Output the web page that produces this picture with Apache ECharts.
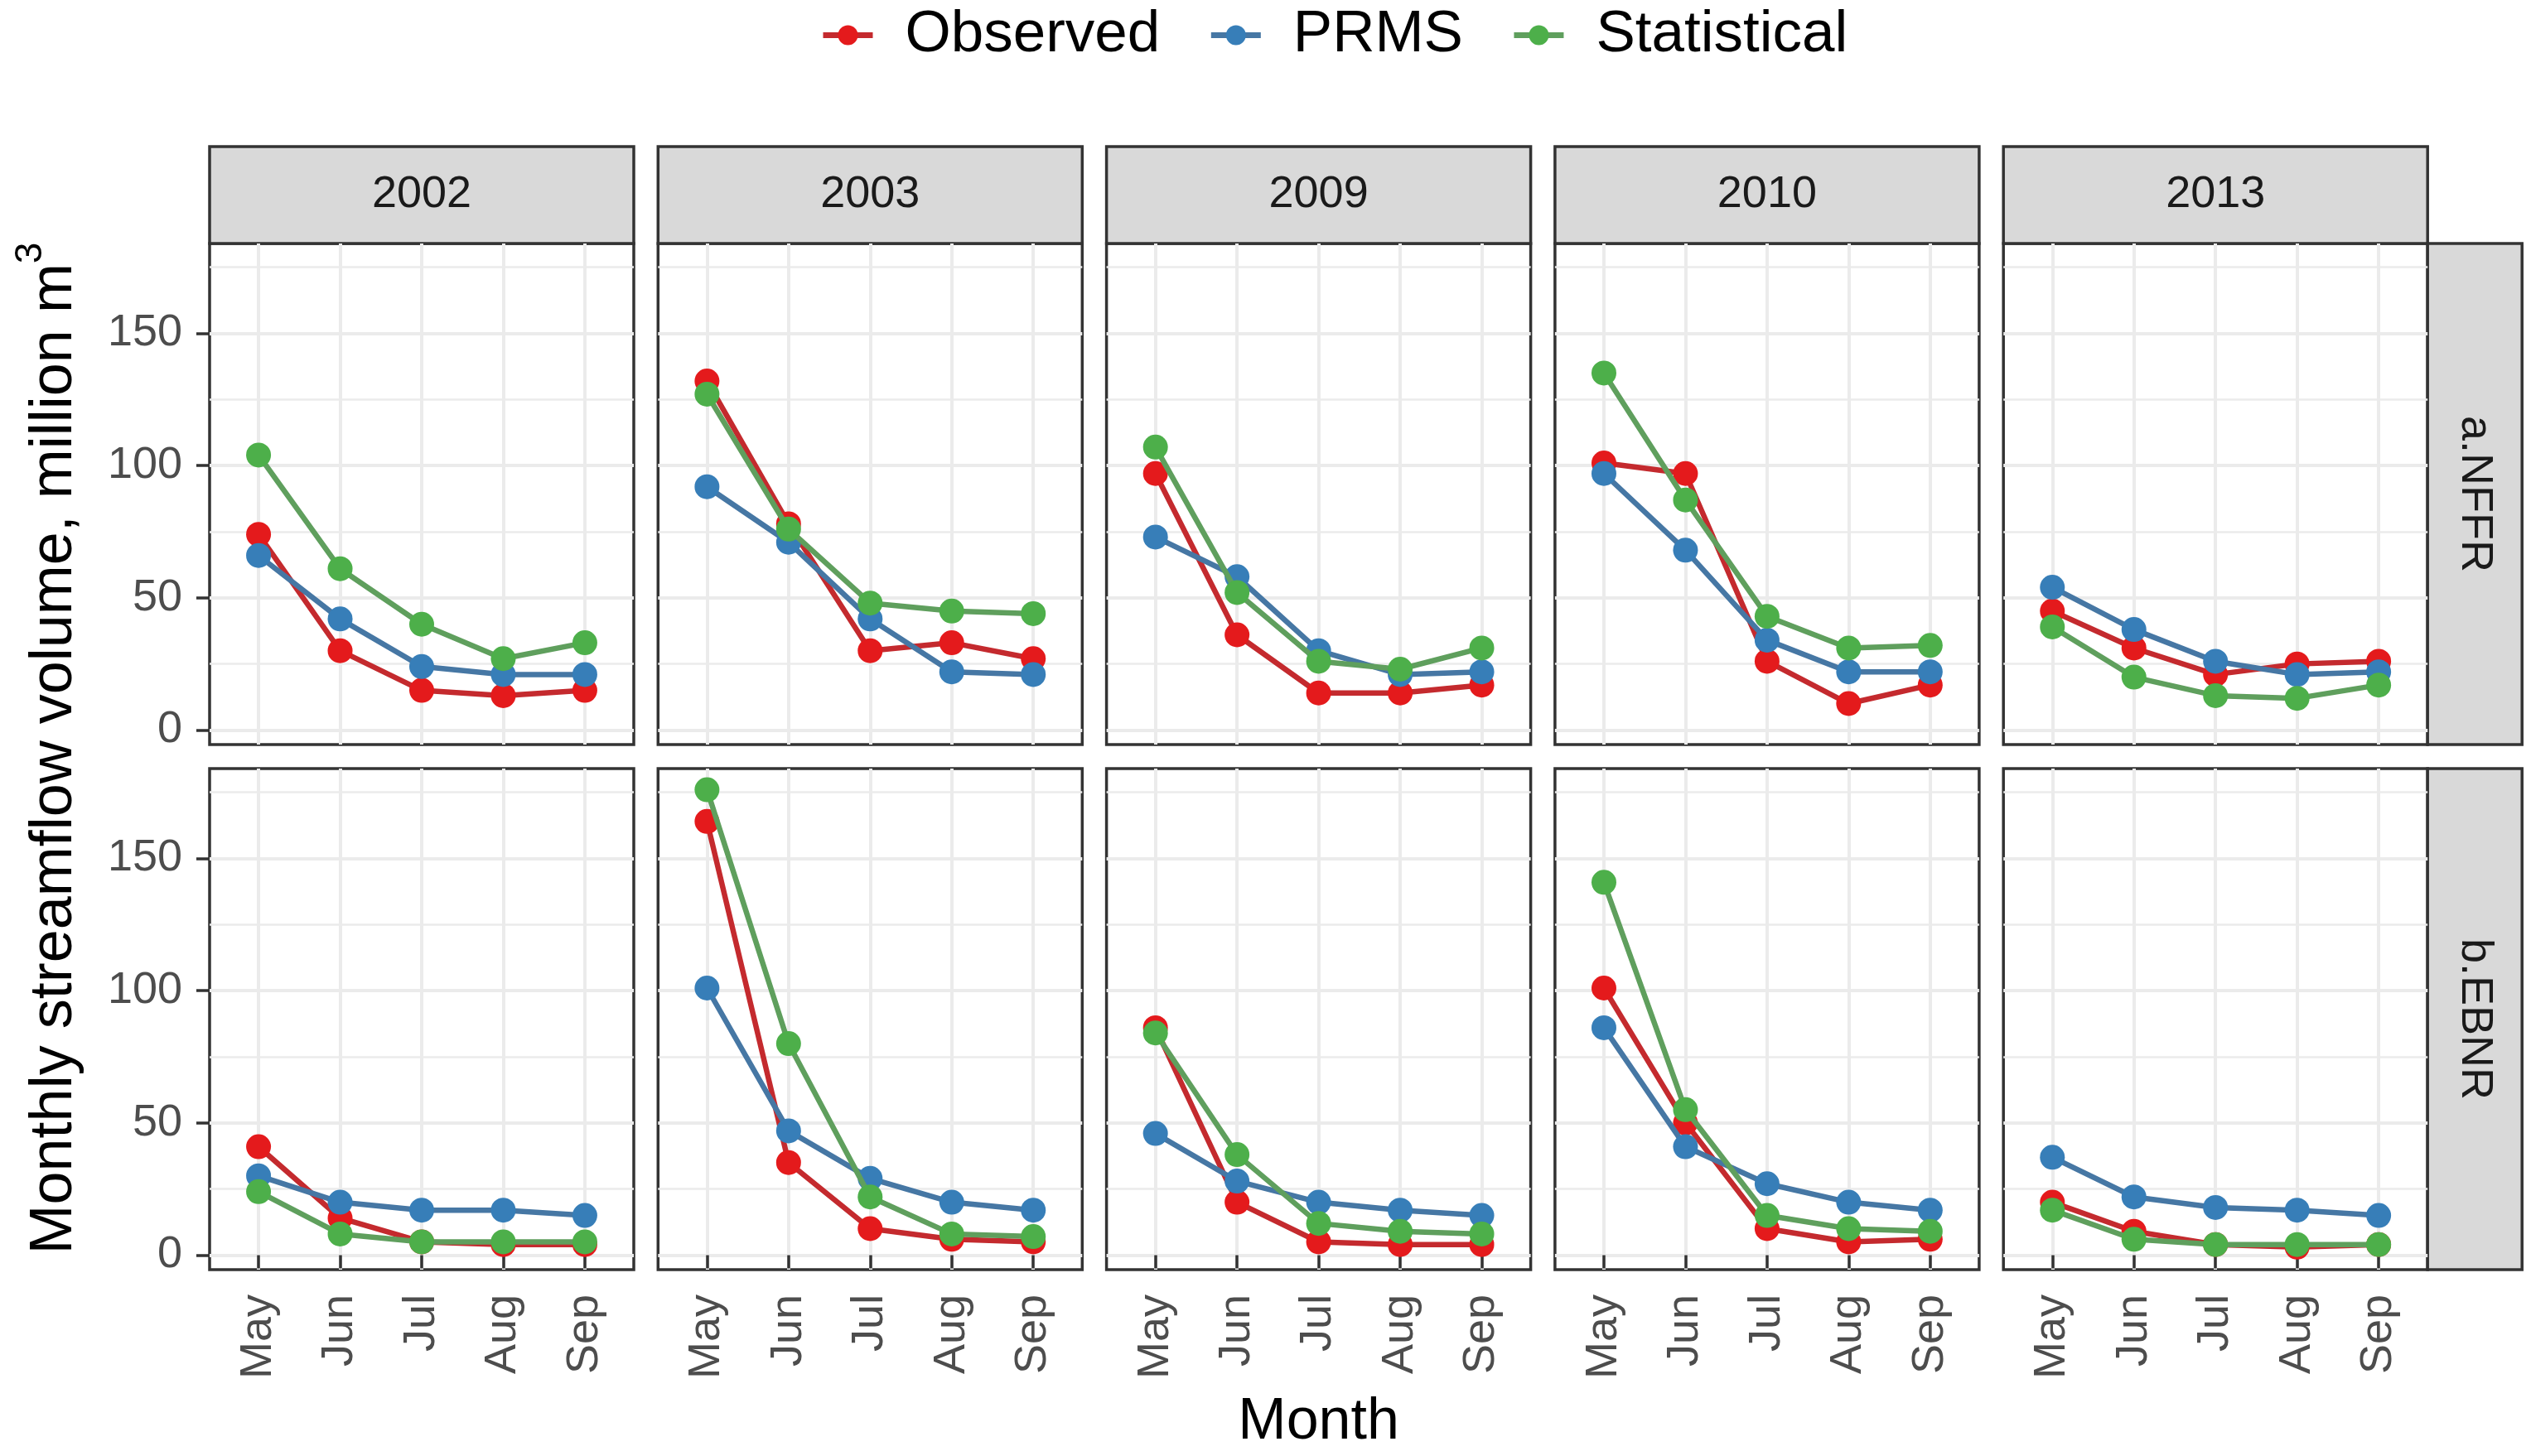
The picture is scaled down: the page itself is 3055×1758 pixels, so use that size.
<!DOCTYPE html>
<html><head><meta charset="utf-8">
<script src="https://cdn.jsdelivr.net/npm/echarts@6/dist/echarts.min.js"></script>
<style>html,body{margin:0;padding:0;background:#fff}#c{width:3055px;height:1758px}</style>
</head><body><div id="c"></div>
<script>
// ---- data ----
const months = ['May', 'Jun', 'Jul', 'Aug', 'Sep'];
const years = ['2002', '2003', '2009', '2010', '2013'];
const sites = ['a.NFFR', 'b.EBNR'];
const seriesNames = ['Observed', 'PRMS', 'Statistical'];
const yTicks = [0, 50, 100, 150];
const yMinorLines = [25, 75, 125, 175];

// rows: years 2002, 2003, 2009, 2010, 2013 ; columns: May..Sep
const nffrObserved = [[74, 30, 15, 13, 15], [132, 78, 30, 33, 27], [97, 36, 14, 14, 17], [101, 97, 26, 10, 17], [45, 31, 21, 25, 26]];
const nffrPRMS = [[66, 42, 24, 21, 21], [92, 71, 42, 22, 21], [73, 58, 30, 21, 22], [97, 68, 34, 22, 22], [54, 38, 26, 21, 22]];
const nffrStatistical = [[104, 61, 40, 27, 33], [127, 76, 48, 45, 44], [107, 52, 26, 23, 31], [135, 87, 43, 31, 32], [39, 20, 13, 12, 17]];

const ebnrObserved = [[41, 14, 5, 4, 4], [164, 35, 10, 6, 5], [86, 20, 5, 4, 4], [101, 50, 10, 5, 6], [20, 9, 4, 3, 4]];
const ebnrPRMS = [[30, 20, 17, 17, 15], [101, 47, 29, 20, 17], [46, 28, 20, 17, 15], [86, 41, 27, 20, 17], [37, 22, 18, 17, 15]];
const ebnrStatistical = [[24, 8, 5, 5, 5], [176, 80, 22, 8, 7], [84, 38, 12, 9, 8], [141, 55, 15, 10, 9], [17, 6, 4, 4, 4]];

const siteData = [
  [nffrObserved, nffrPRMS, nffrStatistical],
  [ebnrObserved, ebnrPRMS, ebnrStatistical]
];

// ---- style / layout ----
const FONT = 'Liberation Sans, Arial, sans-serif';
const pointColors = ['#E41A1C', '#377EB8', '#4DAF4A'];
const lineColors = ['#C42A2E', '#4677A4', '#5F9F5D'];
const L0 = 253, STEP = 541.3, PW = 512;
const TOPS = [294, 928], PH = 605;
const STRIP_TOP = 177, STRIP_H = 117, RSTRIP_W = 114;
const YMIN = -5.5, YMAX = 184;
const XMIN = 0.4, XMAX = 5.6;
const xPos = [1, 2, 3, 4, 5];

const grids = [], xAxes = [], yAxes = [], series = [], graphics = [];

for (let r = 0; r < 2; r++) {
  for (let c = 0; c < 5; c++) {
    const g = r * 5 + c;
    const left = L0 + c * STEP;
    grids.push({ left: left, top: TOPS[r], width: PW, height: PH, show: true,
      borderColor: '#333333', borderWidth: 3.5, backgroundColor: '#ffffff' });
    xAxes.push({
      type: 'value', gridIndex: g, min: XMIN, max: XMAX, position: 'bottom',
      axisLine: { show: false },
      axisTick: { show: r === 1, customValues: xPos, length: 16, lineStyle: { color: '#333333', width: 3.5 } },
      axisLabel: { show: r === 1, customValues: xPos, rotate: 90, margin: 30, fontSize: 54,
        fontFamily: FONT, color: '#4D4D4D', formatter: v => months[Math.round(v) - 1] },
      splitLine: { show: true, lineStyle: { color: '#EBEBEB', width: 4 } }
    });
    yAxes.push({
      type: 'value', gridIndex: g, min: YMIN, max: YMAX, position: 'left',
      axisLine: { show: false },
      axisTick: { show: false, customValues: yMinorLines },
      axisLabel: { show: false, customValues: yMinorLines },
      splitLine: { show: true, lineStyle: { color: '#EBEBEB', width: 2.5 } }
    });
    yAxes.push({
      type: 'value', gridIndex: g, min: YMIN, max: YMAX, position: 'left',
      axisLine: { show: false },
      axisTick: { show: c === 0, customValues: yTicks, length: 16, lineStyle: { color: '#333333', width: 3.5 } },
      axisLabel: { show: c === 0, customValues: yTicks, margin: 33, fontSize: 54, fontFamily: FONT, color: '#4D4D4D' },
      splitLine: { show: true, lineStyle: { color: '#EBEBEB', width: 4 } }
    });
    for (let k = 0; k < 3; k++) {
      const vals = siteData[r][k][c];
      series.push({
        type: 'line', name: seriesNames[k], xAxisIndex: g, yAxisIndex: 2 * g + 1,
        data: vals.map((v, i) => [xPos[i], v]),
        symbol: 'circle', symbolSize: 30, showSymbol: true,
        lineStyle: { color: lineColors[k], width: 6.5 },
        itemStyle: { color: pointColors[k] },
        emphasis: { disabled: true }, silent: true, z: 3 + k
      });
    }
    if (r === 0) {
      graphics.push({ type: 'rect', shape: { x: left, y: STRIP_TOP, width: PW, height: STRIP_H },
        style: { fill: '#D9D9D9', stroke: '#333333', lineWidth: 3.5 } });
      graphics.push({ type: 'text', x: left + PW / 2, y: STRIP_TOP + STRIP_H / 2,
        style: { text: years[c], fontSize: 54, fontFamily: FONT, fill: '#1A1A1A', align: 'center', verticalAlign: 'middle' } });
    }
  }
  const rx = L0 + 4 * STEP + PW;
  graphics.push({ type: 'rect', shape: { x: rx, y: TOPS[r], width: RSTRIP_W, height: PH },
    style: { fill: '#D9D9D9', stroke: '#333333', lineWidth: 3.5 } });
  graphics.push({ type: 'text', x: rx + RSTRIP_W / 2, y: TOPS[r] + PH / 2, rotation: -Math.PI / 2,
    style: { text: sites[r], fontSize: 54, fontFamily: FONT, fill: '#1A1A1A', align: 'center', verticalAlign: 'middle' } });
}

// axis titles
graphics.push({ type: 'text', x: L0 + (4 * STEP + PW) / 2, y: 1718,
  style: { text: 'Month', fontSize: 70, fontFamily: FONT, fill: '#000', align: 'center', verticalAlign: 'middle' } });
graphics.push({ type: 'text', x: 58, y: (TOPS[0] + TOPS[1] + PH) / 2 - 10, rotation: Math.PI / 2,
  style: { text: '{a|Monthly streamflow volume, million m}{s|3}', align: 'center', verticalAlign: 'middle',
    rich: { a: { fontSize: 72, fontFamily: FONT, fill: '#000', lineHeight: 88, verticalAlign: 'bottom' },
            s: { fontSize: 46, fontFamily: FONT, fill: '#000', lineHeight: 88, verticalAlign: 'top' } } } });

const chart = echarts.init(document.getElementById('c'), null, { renderer: 'canvas' });
chart.setOption({
  animation: false,
  backgroundColor: '#ffffff',
  legend: {
    data: seriesNames, top: 2, left: 985, itemWidth: 60, itemHeight: 30, itemGap: 58,
    lineStyle: { width: 7 },
    textStyle: { fontSize: 71, fontFamily: FONT, color: '#000', padding: [0, 0, 0, 34] },
    selectedMode: false
  },
  grid: grids, xAxis: xAxes, yAxis: yAxes, series: series, graphic: graphics
});
</script></body></html>
